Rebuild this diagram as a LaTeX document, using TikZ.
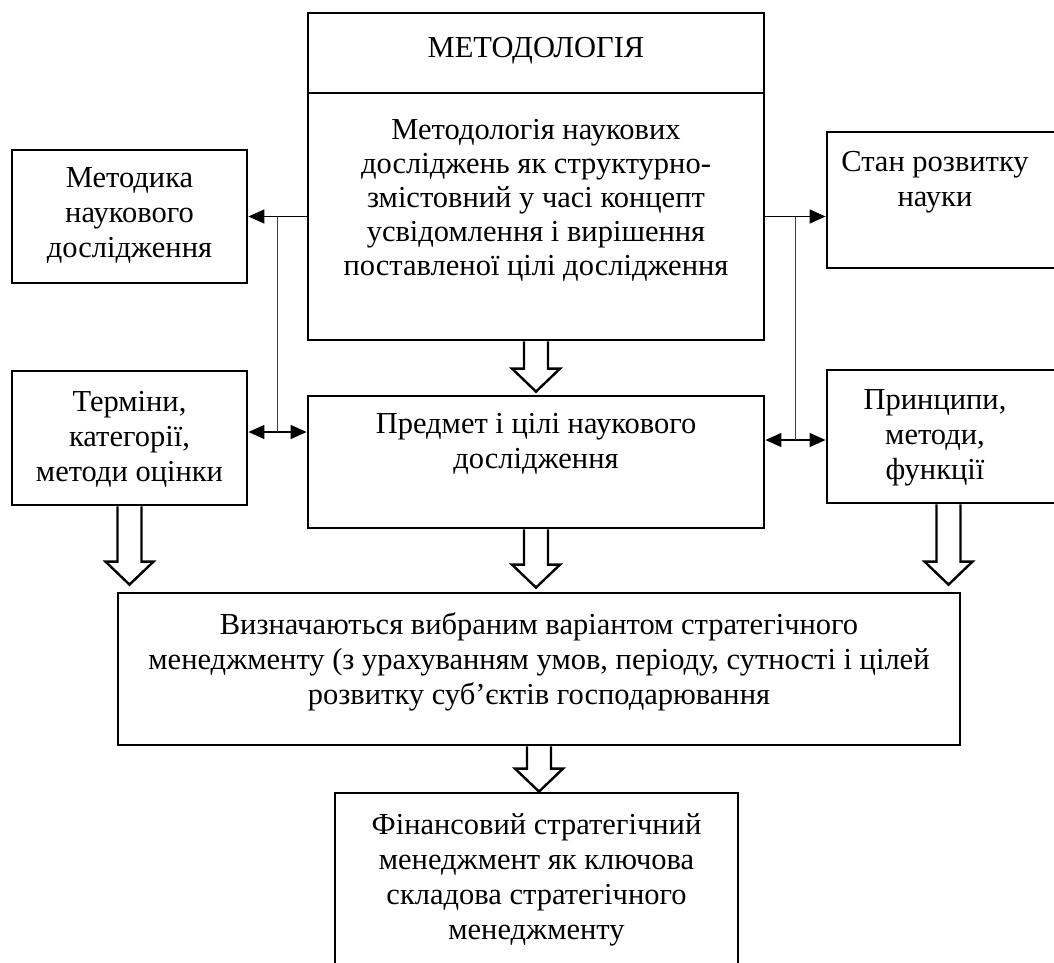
\documentclass[tikz,border=0pt]{standalone}
\usepackage{fontspec}
\setmainfont{Liberation Serif}
\usetikzlibrary{arrows.meta,calc}

\tikzset{
  box/.style={draw, line width=2.8pt, inner sep=0pt},
  txt/.style={anchor=north, align=center, inner sep=0pt, font=\fontsize{30.5}{35}\selectfont},
  link/.style={line width=1.4pt},
  thinlink/.style={line width=0.9pt, black!75},
  tip/.style={link, -{Triangle[length=16pt,width=14pt]}},
  both/.style={link, {Triangle[length=16pt,width=14pt]}-{Triangle[length=16pt,width=14pt]}},
  hollow/.style={line width=2.4pt, line join=miter},
}
% hollow block arrow: x from #1, tip at the height of #2
\newcommand{\blockarrow}[2]{%
  \draw[hollow] let \p1=(#1), \p2=(#2) in
    (\x1-12pt,\y1) -- (\x1-12pt,\y2+23pt) -- (\x1-24pt,\y2+23pt) -- (\x1,\y2)
    -- (\x1+24pt,\y2+23pt) -- (\x1+12pt,\y2+23pt) -- (\x1+12pt,\y1);}

\begin{document}
\begin{tikzpicture}[x=1pt, y=-1pt]
\clip (0,0) rectangle (1054,963);

% boxes
\node[box, minimum width=456, minimum height=80] (metTop) at (536,53) {};
\node[box, minimum width=456, minimum height=247] (metMain) at (536,216.5) {};
\node[box, minimum width=235, minimum height=133] (metodyka) at (129.5,216.5) {};
\node[box, minimum width=243, minimum height=136] (stan) at (948.5,200) {};
\node[box, minimum width=235, minimum height=134] (terminy) at (129.5,438) {};
\node[box, minimum width=456, minimum height=132] (predmet) at (536,462) {};
\node[box, minimum width=243, minimum height=133] (pryntsypy) at (948.5,436.5) {};
\node[box, minimum width=842, minimum height=152] (vyznach) at (539,669) {};
\node[box, minimum width=403, minimum height=207] (finans) at (536.5,896.5) {};

% texts
\node[txt] (metTopT) at ([yshift=-26pt]metTop.north) {МЕТОДОЛОГІЯ};
\node[txt, font=\fontsize{30.5}{34}\selectfont] (metMainT) at ([yshift=-28pt]metMain.north) {Методологія наукових\\досліджень як структурно-\\змістовний у часі концепт\\усвідомлення і вирішення\\поставленої цілі дослідження};
\node[txt] (metodykaT) at ([yshift=-19pt]metodyka.north) {Методика\\наукового\\дослідження};
\node[txt] (stanT) at ([xshift=-13.5pt,yshift=-21pt]stan.north) {Стан розвитку\\науки};
\node[txt] (terminyT) at ([yshift=-21pt]terminy.north) {Терміни,\\категорії,\\методи оцінки};
\node[txt] (predmetT) at ([yshift=-19pt]predmet.north) {Предмет і цілі наукового\\дослідження};
\node[txt] (pryntsypyT) at ([xshift=-13.5pt,yshift=-21pt]pryntsypy.north) {Принципи,\\методи,\\функції};
\node[txt] (vyznachT) at ([yshift=-21pt]vyznach.north) {Визначаються вибраним варіантом стратегічного\\менеджменту (з урахуванням умов, періоду, сутності і цілей\\розвитку суб’єктів господарювання};
\node[txt] (finansT) at ([yshift=-22pt]finans.north) {Фінансовий стратегічний\\менеджмент як ключова\\складова стратегічного\\менеджменту};

% left links
\coordinate (la) at (metodyka.east -| metMain.west);
\coordinate (lb) at ($(terminy.east)+(0,-6)$);
\draw[tip] (la) -- (metodyka.east);
\draw[both] (lb) -- (lb -| predmet.west);
\draw[thinlink] ($(metodyka.east)!.5!(la)$) -- ($(lb)!.5!(lb -| predmet.west)$);

% right links
\coordinate (ra) at (metMain.east |- metodyka.east);
\coordinate (rb) at ($(predmet.east |- pryntsypy.west)+(0,3.5)$);
\draw[tip] (ra) -- (ra -| stan.west);
\draw[both] (rb) -- (rb -| pryntsypy.west);
\draw[thinlink] ($(ra)!.5!(ra -| stan.west)$) -- ($(rb)!.5!(rb -| pryntsypy.west)$);

% block arrows
\blockarrow{metMain.south}{$(predmet.north)+(0,-3)$}
\blockarrow{terminy.south}{$(terminy.south |- vyznach.north)+(0,-7)$}
\blockarrow{predmet.south}{$(vyznach.north)+(0,-4)$}
\blockarrow{pryntsypy.south}{$(pryntsypy.south |- vyznach.north)+(0,-7)$}
\blockarrow{vyznach.south}{finans.north}
\end{tikzpicture}
\end{document}
